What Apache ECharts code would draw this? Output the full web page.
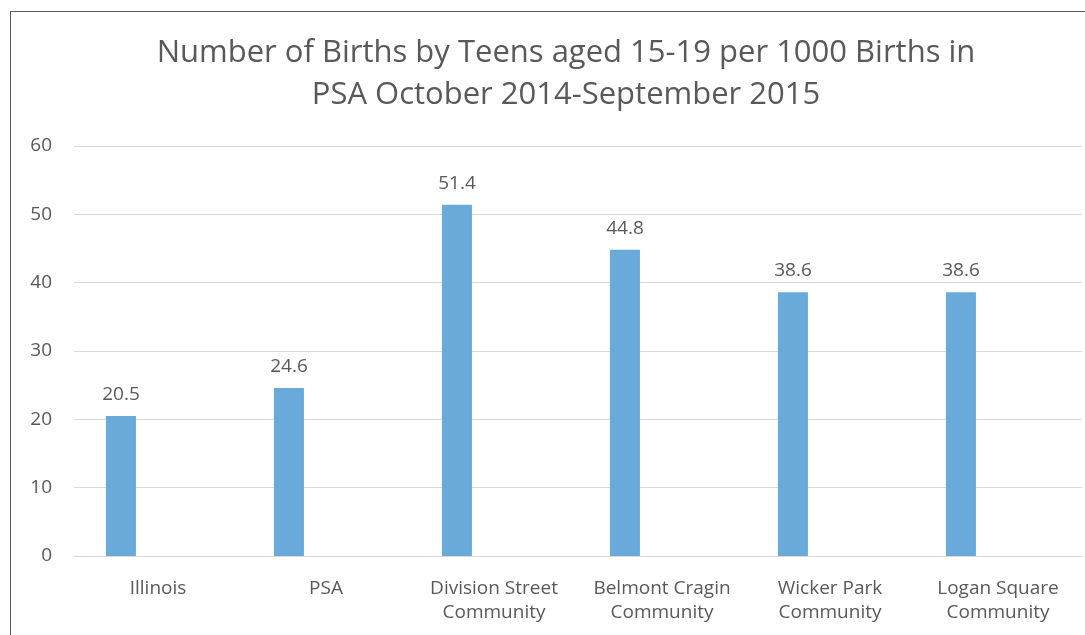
<!DOCTYPE html>
<html>
<head>
<meta charset="utf-8">
<script src="https://cdn.jsdelivr.net/npm/echarts@6/dist/echarts.min.js"></script>
<style>
  html, body { margin: 0; padding: 0; background: #fff; overflow: hidden; }
  #frame { position: absolute; left: 10px; top: 11px; width: 1090px; height: 640px; border: 1px solid #5a5a5a; box-sizing: border-box; }
  #main { position: absolute; left: 0; top: 0; width: 1085px; height: 635px; }
</style>
</head>
<body>
<div id="frame"></div>
<div id="main"></div>
<script>
// categories and values
var categories = ['Illinois', 'PSA', 'Division Street\nCommunity', 'Belmont Cragin\nCommunity', 'Wicker Park\nCommunity', 'Logan Square\nCommunity'];
var teenBirths = [20.5, 24.6, 51.4, 44.8, 38.6, 38.6];
// second (empty) series in the original workbook pushes bars to the left
var emptySeries = [null, null, null, null, null, null];
var yTicks = { min: 0, max: 60, interval: 10 };

var textColor = '#595959';
var font = '"Open Sans", sans-serif';

var chart = echarts.init(document.getElementById('main'));
chart.setOption({
  animation: false,
  title: {
    text: 'Number of Births by Teens aged 15-19 per 1000 Births in\nPSA October 2014-September 2015',
    left: 561,
    textAlign: 'center',
    top: 27,
    textStyle: {
      color: textColor,
      fontFamily: font,
      fontWeight: 'normal',
      fontSize: 31,
      lineHeight: 42
    }
  },
  grid: {
    left: 74,
    right: 3,
    top: 146,
    bottom: 79
  },
  xAxis: {
    type: 'category',
    data: categories,
    axisTick: { show: false },
    axisLine: { lineStyle: { color: '#d9d9d9', width: 1 } },
    axisLabel: {
      color: textColor,
      fontFamily: font,
      fontSize: 19,
      lineHeight: 24,
      margin: 21,
      interval: 0
    }
  },
  yAxis: {
    type: 'value',
    min: yTicks.min,
    max: yTicks.max,
    interval: yTicks.interval,
    axisLine: { show: false },
    axisTick: { show: false },
    axisLabel: {
      color: textColor,
      fontFamily: font,
      fontSize: 19,
      margin: 22
    },
    splitLine: { lineStyle: { color: '#d9d9d9', width: 1 } }
  },
  series: [
    {
      type: 'bar',
      data: teenBirths,
      barWidth: 30,
      barGap: '147%',
      itemStyle: { color: '#6aaada' },
      label: {
        show: true,
        position: 'top',
        distance: 12,
        color: textColor,
        fontFamily: font,
        fontSize: 19
      }
    },
    {
      type: 'bar',
      data: emptySeries,
      barWidth: 30
    }
  ]
});
</script>
</body>
</html>
